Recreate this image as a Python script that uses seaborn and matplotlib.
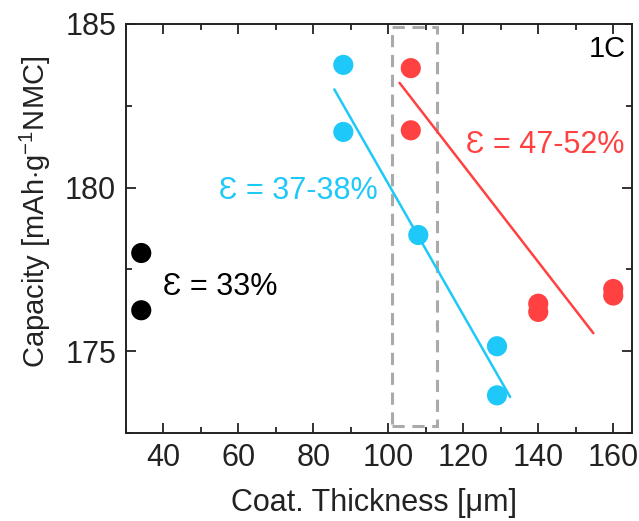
import numpy as np
import pandas as pd
import matplotlib
matplotlib.use("Agg")
import matplotlib.pyplot as plt
from matplotlib.patches import Rectangle
from matplotlib.ticker import MultipleLocator
import seaborn as sns

# porosity groups, coating thickness [um] and 1C capacity [mAh/g NMC]
eps33_x = [34.1, 34.1]
eps33_y = [178.0, 176.25]
eps37_x = [88.0, 88.0, 108.0, 129.0, 129.0]
eps37_y = [183.75, 181.7, 178.55, 175.15, 173.65]
eps47_x = [106.0, 106.0, 140.0, 140.0, 160.0, 160.0]
eps47_y = [183.65, 181.75, 176.45, 176.2, 176.9, 176.7]

# linear fit lines (end points)
fit37_x = [85.6, 132.5]
fit37_y = [183.0, 173.6]
fit47_x = [103.0, 154.7]
fit47_y = [183.2, 175.55]

# highlighted thickness window
box_x = [101.1, 113.1]
box_y = [172.7, 184.9]

BLUE = "#1ec8f8"
RED = "#ff4141"
BLACK = "#000000"

sns.set_style("ticks")
plt.rcParams["font.family"] = ["Liberation Sans", "DejaVu Sans"]
plt.rcParams["mathtext.fontset"] = "custom"
plt.rcParams["mathtext.rm"] = "Liberation Sans"
plt.rcParams["mathtext.it"] = "Liberation Sans"

df = pd.concat([
    pd.DataFrame({"x": eps33_x, "y": eps33_y, "grp": "33"}),
    pd.DataFrame({"x": eps37_x, "y": eps37_y, "grp": "37"}),
    pd.DataFrame({"x": eps47_x, "y": eps47_y, "grp": "47"}),
])
pal = {"33": BLACK, "37": BLUE, "47": RED}

fig = plt.figure(figsize=(6.39, 5.21), dpi=100)
ax = fig.add_axes([0.197, 0.169, 0.792, 0.785])

sns.lineplot(x=fit37_x, y=fit37_y, color=BLUE, lw=1.8, ax=ax)
sns.lineplot(x=fit47_x, y=fit47_y, color=RED, lw=1.8, ax=ax)
sns.scatterplot(data=df, x="x", y="y", hue="grp", palette=pal, s=210,
                linewidth=0, legend=False, ax=ax, zorder=3)

ax.add_patch(Rectangle((box_x[0], box_y[0]), box_x[1] - box_x[0], box_y[1] - box_y[0],
                       fill=False, ec="#aaaaaa", lw=2.2, ls=(0, (4, 2.5)), zorder=1))

ax.text(76, 179.9, "Ɛ = 37-38%", color=BLUE, fontsize=22, ha="center", va="center")
ax.text(142, 181.3, "Ɛ = 47-52%", color=RED, fontsize=22, ha="center", va="center")
ax.text(55.3, 176.95, "Ɛ = 33%", color=BLACK, fontsize=22, ha="center", va="center")
ax.text(163.3, 184.25, "1C", color=BLACK, fontsize=21, ha="right", va="center")

ax.set_xlim(30, 165)
ax.set_ylim(172.5, 185)
ax.xaxis.set_major_locator(MultipleLocator(20))
ax.xaxis.set_minor_locator(MultipleLocator(10))
ax.yaxis.set_major_locator(MultipleLocator(5))
ax.yaxis.set_minor_locator(MultipleLocator(2.5))
ax.tick_params(which="both", direction="in", top=True, right=True, width=1.3,
               labelsize=22, colors="#222222", pad=7)
ax.tick_params(which="major", length=7)
ax.tick_params(which="minor", length=4)
for sp in ax.spines.values():
    sp.set_linewidth(1.4)
    sp.set_color("#222222")

ax.set_xlabel("Coat. Thickness [μm]", fontsize=22, color="#222222")
ax.xaxis.set_label_coords(0.49, -0.135)
ax.set_ylabel(r"Capacity [mAh$\cdot$g$^{-1}$NMC]", fontsize=21, color="#222222")
ax.yaxis.set_label_coords(-0.145, 0.54)

fig.savefig("out.png", dpi=100)
